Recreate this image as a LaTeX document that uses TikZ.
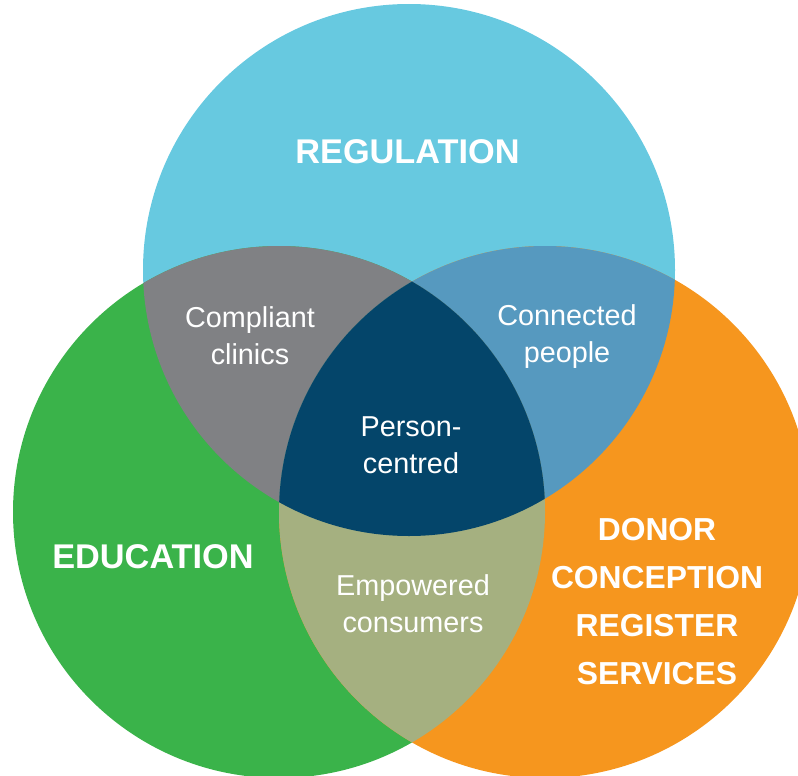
\documentclass[tikz,border=0pt]{standalone}
\usepackage{fontspec}
\setmainfont{Liberation Sans}
\definecolor{regblue}{HTML}{67C9E0}
\definecolor{edugreen}{HTML}{3AB34A}
\definecolor{dcrorange}{HTML}{F6961E}
\definecolor{clinicgray}{HTML}{808184}
\definecolor{peopleblue}{HTML}{5699BF}
\definecolor{consumerolive}{HTML}{A5B080}
\definecolor{centrenavy}{HTML}{04456A}
\begin{document}
\begin{tikzpicture}[x=1pt,y=-1pt]
        \tikzstyle{every node}=[text=white,align=center,inner sep=0pt];
        \tikzstyle{bigtext}=[font=\fontsize{34.3}{48}\selectfont\bfseries];
        \tikzstyle{smalltext}=[font=\fontsize{28.8}{37}\selectfont];
        \useasboundingbox (0,0) rectangle (798,776);
        \clip (0,0) rectangle (798,776);
        %three circles
        \coordinate (r) at (409,270);
        \coordinate (e) at (279,512);
        \coordinate (d) at (545,512);
        \fill[regblue] (r) circle (266pt);
        \fill[edugreen] (e) circle (266pt);
        \fill[dcrorange] (d) circle (266pt);
        %overlaps
        \begin{scope}
        \clip (r) circle (266pt);
        \fill[clinicgray] (e) circle (266pt);
        \fill[peopleblue] (d) circle (266pt);
        \clip (e) circle (266pt);
        \fill[centrenavy] (d) circle (266pt);
        \end{scope}
        \begin{scope}
        \clip (e) circle (266pt);
        \clip (d) circle (266pt);
        \fill[consumerolive] (d) circle (266pt);
        \clip (r) circle (266pt);
        \fill[centrenavy] (d) circle (266pt);
        \end{scope}
        %labels
        \node[bigtext,anchor=base] (regulation) at (407.5,163) {REGULATION};
        \node[bigtext,anchor=base] (education) at (153,568) {EDUCATION};
        \node[bigtext,font=\fontsize{31.8}{48}\selectfont\bfseries] (register) at (657,602) {DONOR\\CONCEPTION\\REGISTER\\SERVICES};
        \node[smalltext] (clinics) at (250,336) {Compliant\\clinics};
        \node[smalltext] (people) at (567,337) {Connected\\people};
        \node[smalltext] (centred) at (411,445) {Person-\\centred};
        \node[smalltext] (consumers) at (413,604) {Empowered\\consumers};
\end{tikzpicture}
\end{document}
